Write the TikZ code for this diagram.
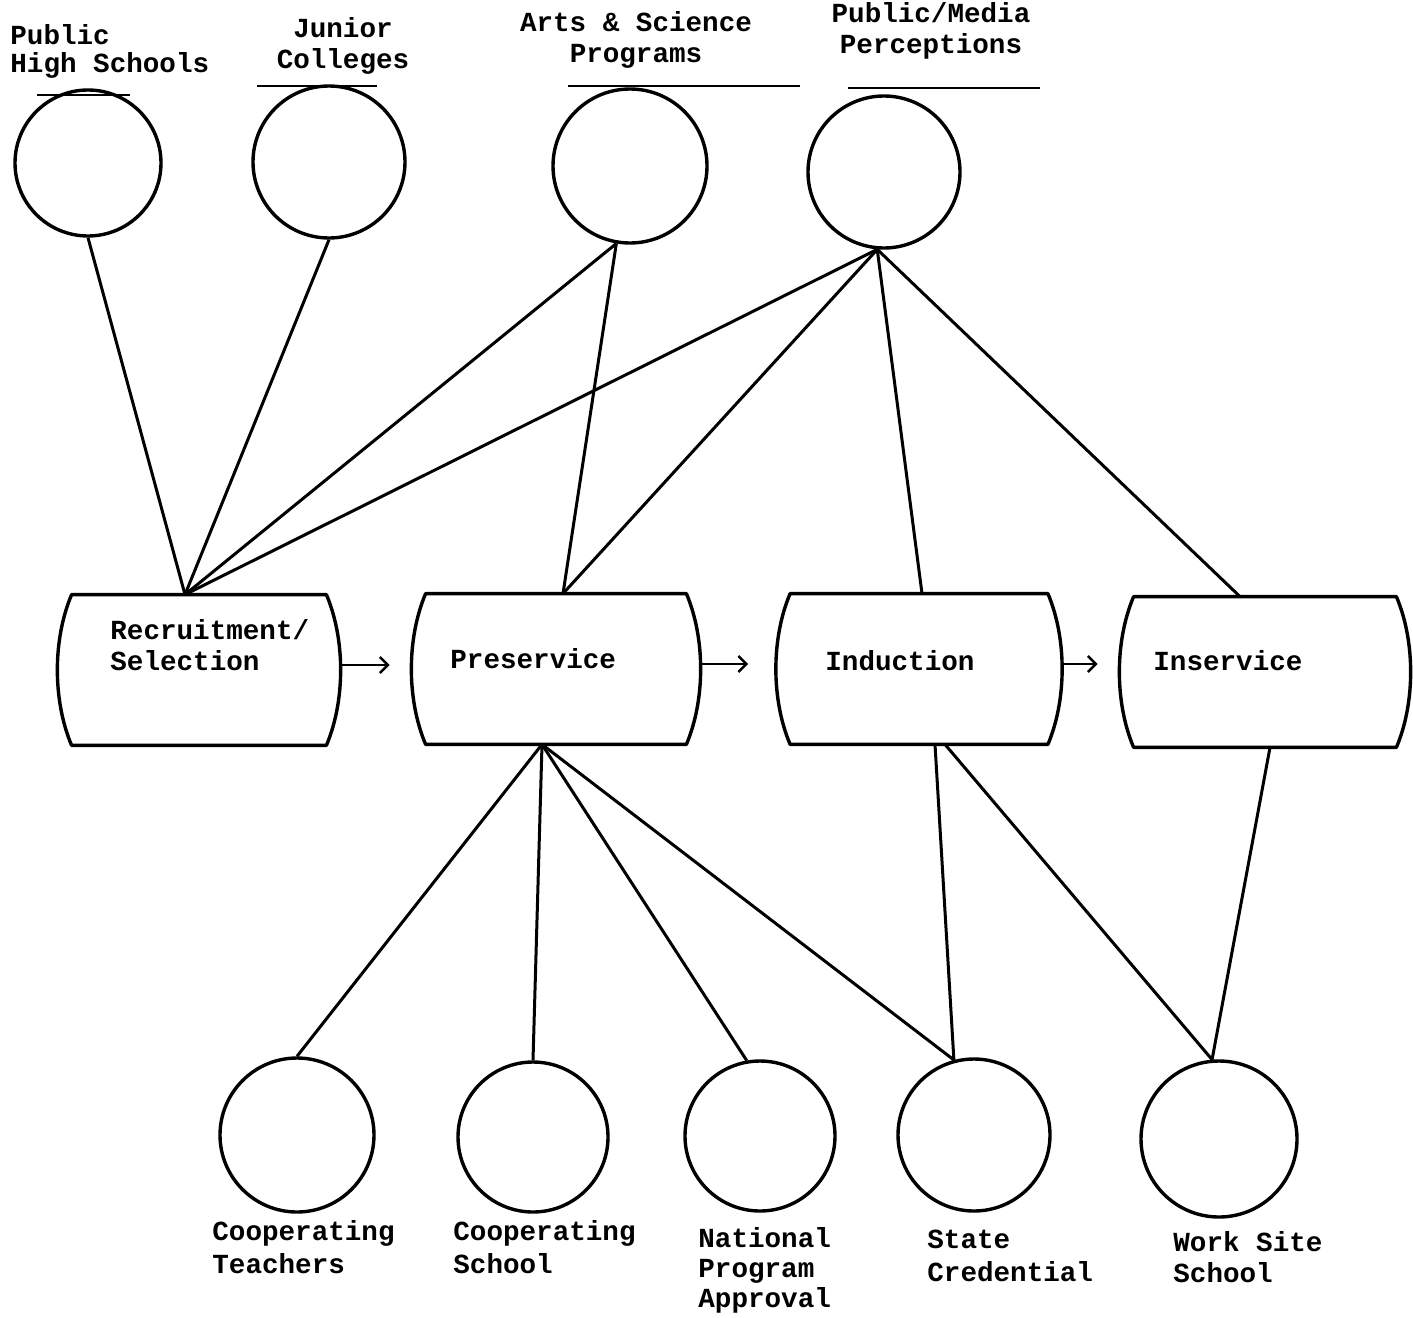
\documentclass[tikz,border=0pt]{standalone}
\usepackage{fontspec}
\setmonofont{Liberation Mono}
\usetikzlibrary{calc,arrows.meta}
\newcommand\barrel[1]{%
  \draw[line width=1.7pt,line join=round]
    ($(#1.north west)+(14,0)$) -- ($(#1.north east)+(-14,0)$)
    .. controls +(19,45) and +(19,-45) .. ($(#1.south east)+(-14,0)$)
    -- ($(#1.south west)+(14,0)$)
    .. controls +(-19,-45) and +(-19,45) .. ($(#1.north west)+(14,0)$) -- cycle;}
\begin{document}
\begin{tikzpicture}[x=0.5pt,y=-0.5pt,
  every node/.style={font=\ttfamily\bfseries\fontsize{13.8}{15.5}\selectfont},
  ent/.style={circle,draw,line width=1.7pt,minimum size=#1*1pt,inner sep=0pt},
  stage/.style={draw=none,inner sep=0pt,minimum width=#1*0.5pt,minimum height=75pt},
  link/.style={line width=1.5pt},
  flow/.style={line width=1.2pt,-{Straight Barb[length=4pt,width=8pt,line width=1.2pt]}},
  uline/.style={line width=1pt},
  lbl/.style={inner sep=0pt,align=left,anchor=base west},
  tlbl/.style={inner sep=0pt,align=center,anchor=base},
]
\useasboundingbox (0,0) rectangle (1413,1317);

% top circles
\node[ent=73] (phs) at (88,163) {};
\node[ent=76] (jc) at (329,162) {};
\node[ent=77] (arts) at (630,166) {};
\node[ent=76] (pmp) at (884,172) {};

% top labels (anchor = baseline of last line)
\node[lbl,font=\ttfamily\bfseries\fontsize{13.8}{14}\selectfont] (phsl) at (10,72) {Public\\High Schools};
\node[tlbl] (jcl) at (343,68) {Junior\\Colleges};
\node[tlbl] (artsl) at (636,62) {Arts \& Science\\Programs};
\node[tlbl] (pmpl) at (931,54) {Public/Media\\Perceptions};

% underlines
\draw[uline] (37,95) -- (130,95);
\draw[uline] (257,86) -- (377,86);
\draw[uline] (568,86) -- (800,86);
\draw[uline] (848,88) -- (1040,88);

% stages
\node[stage=282] (rec) at (199,670) {};
\node[stage=288] (pre) at (556,669) {};
\node[stage=285] (ind) at (919,669) {};
\node[stage=290] (ins) at (1265,672) {};
\barrel{rec}\barrel{pre}\barrel{ind}\barrel{ins}

\node[lbl] (recl) at (110,670) {Recruitment/\\Selection};
\node[lbl] (prel) at (450,668) {Preservice};
\node[lbl] (indl) at (825,670) {Induction};
\node[lbl] (insl) at (1153,670) {Inservice};

% flow arrows
\draw[flow] ($(rec.east)+(0,-5)$) -- ($(pre.west)+(-22,-4)$);
\draw[flow] ($(pre.east)+(0,-5)$) -- ($(ind.west)+(-28,-5)$);
\draw[flow] ($(ind.east)+(0,-5)$) -- ($(ins.west)+(-22,-8)$);

% bottom circles
\node[ent=77] (ct) at (297,1135) {};
\node[ent=75] (cs) at (533,1137) {};
\node[ent=75] (nat) at (760,1136) {};
\node[ent=76] (sc) at (974,1135) {};
\node[ent=78] (ws) at (1219,1139) {};

% bottom labels (anchor = baseline of last line)
\node[lbl,font=\ttfamily\bfseries\fontsize{13.8}{16.5}\selectfont] (ctl) at (212,1273) {Cooperating\\Teachers};
\node[lbl,font=\ttfamily\bfseries\fontsize{13.8}{16.5}\selectfont] (csl) at (453,1273) {Cooperating\\School};
\node[lbl,font=\ttfamily\bfseries\fontsize{13.8}{15}\selectfont] (natl) at (698,1307) {National\\Program\\Approval};
\node[lbl,font=\ttfamily\bfseries\fontsize{13.8}{16.5}\selectfont] (scl) at (927,1281) {State\\Credential};
\node[lbl,font=\ttfamily\bfseries\fontsize{13.8}{15.5}\selectfont] (wsl) at (1173,1282) {Work Site\\School};

% connector end points on the stages
\coordinate (recT) at ($(rec.north)+(-14,0)$);
\coordinate (preT) at ($(pre.north)+(7,0)$);
\coordinate (indT) at ($(ind.north)+(3,0)$);
\coordinate (insT) at ($(ins.north)+(-25,0)$);
\coordinate (preB) at ($(pre.south)+(-14,0)$);
\coordinate (indB1) at ($(ind.south)+(16,0)$);
\coordinate (indB2) at ($(ind.south)+(26,0)$);
\coordinate (insB) at ($(ins.south)+(5,0)$);

% connectors
\draw[link] (phs.south) -- (recT);
\draw[link] (jc.south) -- (recT);
\draw[link] (arts.-100) -- (recT);
\draw[link] (pmp.-95) -- (recT);
\draw[link] (arts.-100) -- (preT);
\draw[link] (pmp.-95) -- (preT);
\draw[link] (pmp.-95) -- (indT);
\draw[link] (pmp.-95) -- (insT);
\draw[link] (preB) -- (ct.north);
\draw[link] (preB) -- (cs.north);
\draw[link] (preB) -- (nat.100);
\draw[link] (preB) -- (sc.105);
\draw[link] (indB1) -- (sc.105);
\draw[link] (indB2) -- (ws.95);
\draw[link] (insB) -- (ws.95);
\end{tikzpicture}
\end{document}
